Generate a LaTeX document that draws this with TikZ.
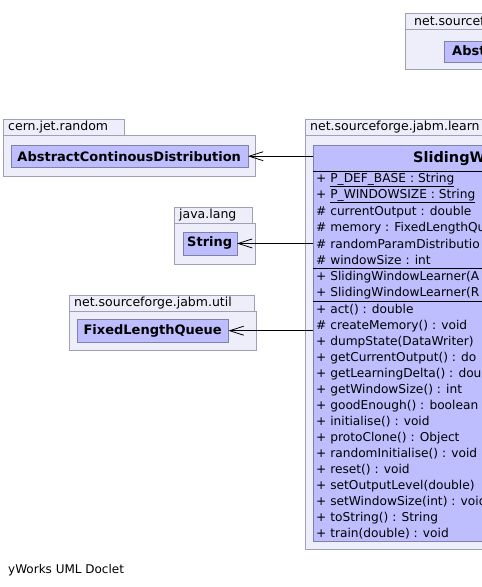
\documentclass[tikz,border=0pt]{standalone}
\usepackage{fontspec}
\setmainfont{DejaVu Sans}
\usepackage{xcolor}
\usetikzlibrary{positioning,arrows.meta}

\definecolor{pkgfill}{RGB}{238,238,250}
\definecolor{pkgline}{RGB}{160,160,180}
\definecolor{clsfill}{RGB}{190,190,255}
\definecolor{clsline}{RGB}{128,128,168}

\begin{document}
\begin{tikzpicture}[x=1pt, y=-1pt,
  every node/.style={font=\fontsize{12.5pt}{14pt}\selectfont},
  pkgtab/.style={draw=pkgline, fill=pkgfill, anchor=north west, inner xsep=5pt, inner ysep=0pt, minimum height=16pt, align=left},
  pkgbody/.style={draw=pkgline, fill=pkgfill, anchor=north west, inner sep=0pt},
  cls/.style={draw=clsline, fill=clsfill, anchor=north west, inner sep=0pt, font=\fontsize{13pt}{14pt}\selectfont\bfseries},
  member/.style={anchor=west, inner sep=0pt, font=\fontsize{12.2pt}{14pt}\selectfont},
  dep/.style={-{Straight Barb[length=14pt,width=9pt]}, line width=0.8pt}]
\useasboundingbox (0,0) rectangle (482,587);
\clip (0,0) rectangle (482,587);

% packages on the left
\node[pkgtab, text width=111pt] (cerntab) at (3,119) {cern.jet.random};
\node[pkgbody, minimum width=252pt, minimum height=41pt] (cernpkg) at (3,135) {};
\node[cls, minimum width=237pt, minimum height=22pt] (cern) at (10.5,145) {AbstractContinousDistribution};

\node[pkgtab, text width=67.5pt] (langtab) at (174,207) {java.lang};
\node[pkgbody, minimum width=81pt, minimum height=40.5pt] (langpkg) at (174,223) {};
\node[cls, minimum width=54pt, minimum height=23.5pt] (string) at (182.5,231.5) {String};

\node[pkgtab, text width=175pt] (utiltab) at (69,295) {net.sourceforge.jabm.util};
\node[pkgbody, minimum width=186.5pt, minimum height=39pt] (utilpkg) at (69,311) {};
\node[cls, minimum width=151pt, minimum height=23pt] (queue) at (77,319) {FixedLengthQueue};

% package at the top right, cut by the edge
\node[pkgtab, text width=182pt, inner xsep=9pt] (toptab) at (405,12.5) {net.sourcef};
\node[pkgbody, minimum width=200pt, minimum height=40.5pt] (toppkg) at (405,28.5) {};
\node[cls, minimum width=160pt, minimum height=21.5pt] (abst) at (444,40.5) {};
\node[member, font=\fontsize{13pt}{14pt}\selectfont\bfseries] (absttxt) at (452,51) {Abst};

% learning package with the main class
\node[pkgtab, text width=290pt] (learntab) at (305,119) {net.sourceforge.jabm.learn};
\node[pkgbody, minimum width=300pt, minimum height=413.5pt] (learnpkg) at (305,135) {};
\node[cls, minimum width=290pt, minimum height=396pt] (main) at (313,144.5) {};
\node[member, font=\fontsize{14.5pt}{18pt}\selectfont\bfseries] (title) at (413,159) {SlidingW};
\draw (313,171.5) -- (482,171.5);
\draw (313,268.5) -- (482,268.5);
\draw (313,301) -- (482,301);

\foreach \txt [count=\i] in {
  {+ \underline{P\_DEF\_BASE : String}},
  {+ \underline{P\_WINDOWSIZE : String}},
  {\# currentOutput : double},
  {\# memory : FixedLengthQu},
  {\# randomParamDistributio},
  {\# windowSize : int}}
  \node[member] (attr\i) at (316,{180+16*(\i-1)}) {\txt};

\foreach \txt [count=\i] in {
  {+ SlidingWindowLearner(A},
  {+ SlidingWindowLearner(R}}
  \node[member] (ctor\i) at (316,{277+16*(\i-1)}) {\txt};

\foreach \txt [count=\i] in {
  {+ act() : double},
  {\# createMemory() : void},
  {+ dumpState(DataWriter)},
  {+ getCurrentOutput() : do},
  {+ getLearningDelta() : dou},
  {+ getWindowSize() : int},
  {+ goodEnough() : boolean},
  {+ initialise() : void},
  {+ protoClone() : Object},
  {+ randomInitialise() : void},
  {+ reset() : void},
  {+ setOutputLevel(double)},
  {+ setWindowSize(int) : void},
  {+ toString() : String},
  {+ train(double) : void}}
  \node[member] (meth\i) at (316,{310+16*(\i-1)}) {\txt};

% dependencies
\draw[dep] (main.west |- cern.east) -- (cern.east);
\draw[dep] (main.west |- string.east) -- (string.east);
\draw[dep] (main.west |- queue.east) -- (queue.east);

\node[member, font=\fontsize{12pt}{14pt}\selectfont] (credit) at (8,570) {yWorks UML Doclet};
\end{tikzpicture}
\end{document}
